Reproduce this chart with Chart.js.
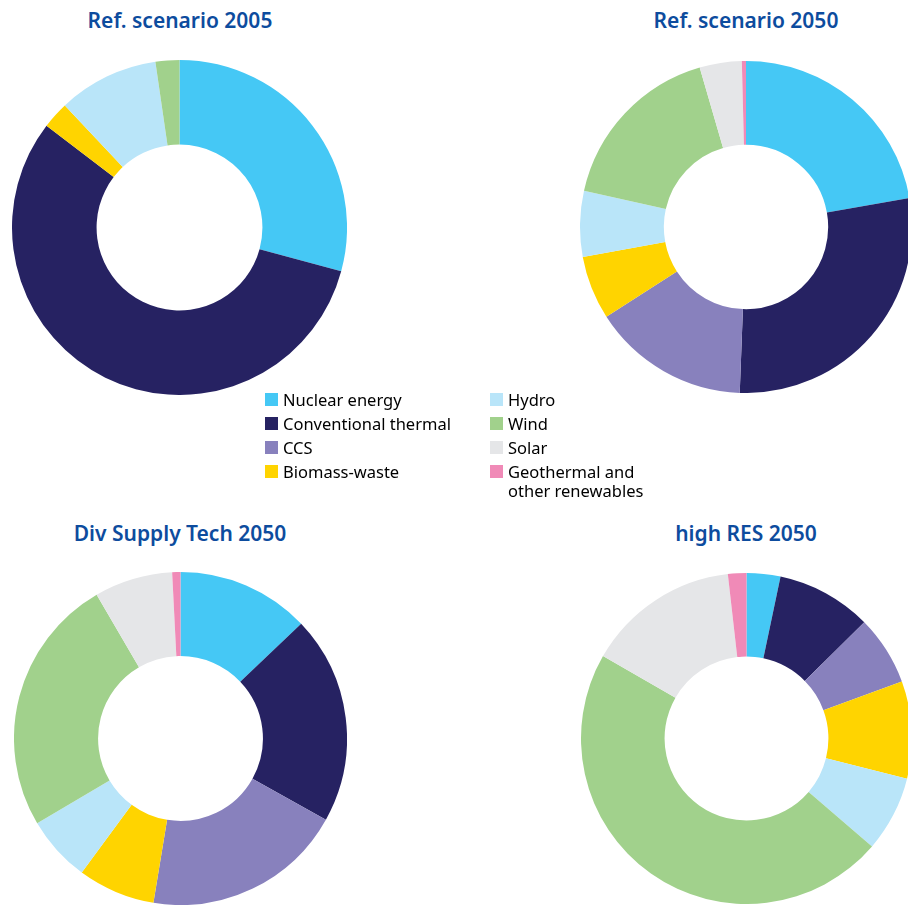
<!DOCTYPE html>
<html>
<head>
<meta charset="utf-8">
<script src="https://cdn.jsdelivr.net/npm/chart.js@4.4.0/dist/chart.umd.min.js"></script>
<style>
  html, body { margin: 0; padding: 0; background: #fff; overflow: hidden; }
  body { width: 908px; height: 906px; position: relative; font-family: "Noto Sans", sans-serif; }
  .title { position: absolute; width: 360px; text-align: center; font-weight: 600; font-size: 21px; color: #0D4C9E; line-height: 24px; }
  canvas { position: absolute; }
  #legend { position: absolute; left: 265px; top: 390px; display: grid; grid-template-rows: repeat(4, auto); grid-auto-flow: column; grid-template-columns: 225px 200px; row-gap: 5px; }
  .item { display: flex; align-items: flex-start; font-size: 16.5px; line-height: 19px; color: #000; }
  .sw { width: 13px; height: 13px; margin-top: 3px; margin-right: 5px; flex: none; }
</style>
</head>
<body>
<div class="title" style="left:0px; top:8px;">Ref. scenario 2005</div>
<div class="title" style="left:566px; top:8px;">Ref. scenario 2050</div>
<div class="title" style="left:0px; top:521px;">Div Supply Tech 2050</div>
<div class="title" style="left:566px; top:521px;">high RES 2050</div>

<canvas id="c1" width="335" height="335" style="left:12px; top:60px;"></canvas>
<canvas id="c2" width="332" height="332" style="left:580px; top:61px;"></canvas>
<canvas id="c3" width="333" height="333" style="left:14px; top:572px;"></canvas>
<canvas id="c4" width="331" height="331" style="left:581px; top:573px;"></canvas>

<div id="legend"></div>

<script>
const labels = ['Nuclear energy', 'Conventional thermal', 'CCS', 'Biomass-waste', 'Hydro', 'Wind', 'Solar', 'Geothermal and other renewables'];
const colors = ['#45C8F5', '#262262', '#8881BD', '#FFD400', '#B9E5F9', '#A1D18C', '#E5E6E8', '#F08AB7'];

// shares in %
const ref2005 = [29.2, 56.2, 0, 2.6, 9.7, 2.3, 0, 0];
const ref2050 = [22.2, 28.4, 15.3, 6.2, 6.4, 17.0, 4.1, 0.4];
const divSupply2050 = [12.9, 20.2, 19.5, 7.5, 6.4, 25.1, 7.6, 0.8];
const highRes2050 = [3.3, 9.3, 6.8, 9.5, 7.4, 47.0, 14.9, 1.8];

function makeDoughnut(id, data) {
    new Chart(document.getElementById(id), {
        type: 'doughnut',
        data: { labels, datasets: [{ data, backgroundColor: colors, borderWidth: 0 }] },
        options: {
            responsive: false,
            animation: false,
            cutout: '49.5%',
            layout: { padding: 0 },
            plugins: { legend: { display: false }, tooltip: { enabled: false } }
        }
    });
}

makeDoughnut('c1', ref2005);
makeDoughnut('c2', ref2050);
makeDoughnut('c3', divSupply2050);
makeDoughnut('c4', highRes2050);

// shared legend
const legendDiv = document.getElementById('legend');
labels.forEach((l, i) => {
    const item = document.createElement('div');
    item.className = 'item';
    const sw = document.createElement('span');
    sw.className = 'sw';
    sw.style.background = colors[i];
    const txt = document.createElement('span');
    txt.innerHTML = l === 'Geothermal and other renewables' ? 'Geothermal and<br>other renewables' : l;
    item.appendChild(sw);
    item.appendChild(txt);
    legendDiv.appendChild(item);
});
</script>
</body>
</html>
